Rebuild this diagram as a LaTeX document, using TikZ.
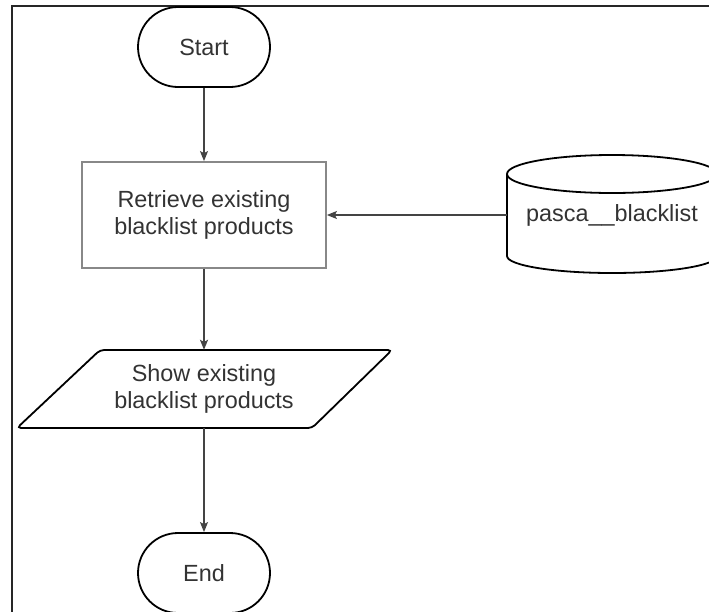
\documentclass[tikz,border=0pt]{standalone}
\usepackage{fontspec}
\setmainfont{Liberation Sans}
\usetikzlibrary{arrows.meta}
\definecolor{txt}{HTML}{333333}
\definecolor{edge}{HTML}{444444}
\definecolor{boxline}{HTML}{888888}
\begin{document}
\begin{tikzpicture}[x=1pt,y=-1pt,
  every node/.style={font=\fontsize{23.4}{27}\selectfont, text=txt, align=center},
  terminal/.style={draw=black, line width=1.8pt, rounded corners=40pt,
    minimum width=132pt, minimum height=80pt, inner sep=0pt},
  process/.style={draw=boxline, line width=1.8pt,
    minimum width=244pt, minimum height=106pt, inner sep=0pt},
  outline/.style={draw=black, line width=1.8pt},
  flow/.style={draw=edge, line width=1.3pt, -{Stealth[length=10pt,width=8pt,inset=2pt]}}
]
\useasboundingbox (0,0) rectangle (709,611);
\clip (0,0) rectangle (709,611);
\fill[white] (0,0) rectangle (709,611);

% page frame
\draw[line width=2pt, black!85] (12,640) -- (12,6) -- (740,6);

% terminals and process
\node[terminal] (start) at (204,47) {Start};
\node[process] (ret) at (204,215) {Retrieve existing\\blacklist products};
\node[terminal] (end) at (204,573) {End};

% input/output parallelogram
\draw[outline, rounded corners=4pt] (100,350) -- (392,350) -- (312,428) -- (17,428) -- cycle;
\node[minimum height=78pt, minimum width=200pt, inner sep=0pt] (show) at (204,389)
  {Show existing\\blacklist products};

% database cylinder (y axis points down, so the lower rim runs through 90 degrees)
\draw[outline] (507,174) -- (507,256) arc[start angle=180, end angle=0, x radius=105, y radius=17] -- (717,174);
\draw[outline] (612,174) ellipse [x radius=105, y radius=19];
\node[minimum width=210pt, minimum height=60pt, inner sep=0pt] (db) at (612,215) {pasca\_\_blacklist};

% connectors
\draw[flow] (start.south) -- (ret.north);
\draw[flow] (db.west) -- (ret.east);
\draw[flow] (ret.south) -- (show.north);
\draw[flow] (show.south) -- (end.north);
\end{tikzpicture}
\end{document}
